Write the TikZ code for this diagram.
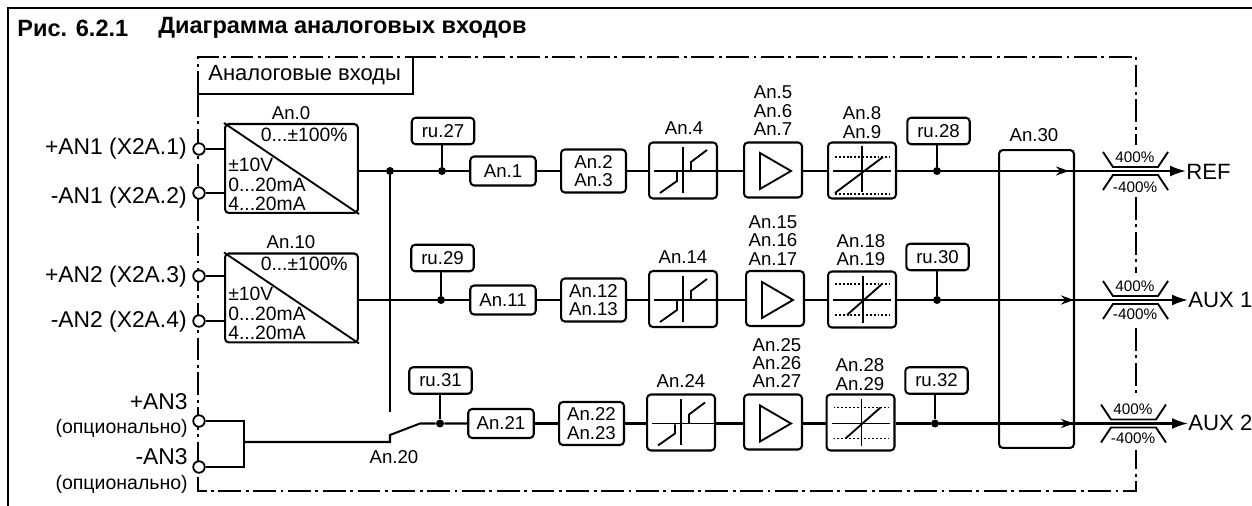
\documentclass[tikz,border=0pt]{standalone}
\usepackage{fontspec}
\setmainfont{Liberation Sans}
\usetikzlibrary{arrows.meta}
\tikzset{
  wire/.style={draw=black, line width=1.15pt},
  dashdot/.style={draw=black, line width=0.9pt, dash pattern=on 13pt off 2.6pt on 1.6pt off 2.6pt},
  frameline/.style={draw=black, line width=1.5pt},
  blk/.style={draw=black, line width=1.15pt, rounded corners=2.2pt, inner sep=0pt, font=\fontsize{10.6}{10.5}\selectfont, align=center},
  adcbox/.style={blk, minimum width=2.66cm, minimum height=1.78cm},
  rubox/.style={blk, minimum width=1.25cm, minimum height=0.53cm},
  anbox/.style={blk, minimum width=1.31cm, minimum height=0.58cm},
  twobox/.style={blk, minimum width=1.30cm, minimum height=0.86cm},
  dzbox/.style={blk, minimum width=1.36cm, minimum height=1.12cm},
  ampbox/.style={blk, minimum width=1.16cm, minimum height=1.10cm},
  term/.style={circle, draw=black, fill=white, line width=1.05pt, inner sep=0pt, minimum size=0.23cm},
  junc/.style={circle, fill=black, inner sep=0pt, minimum size=0.16cm},
  lbl/.style={font=\fontsize{10.6}{10.5}\selectfont, align=center, inner sep=0pt},
  adctxt/.style={font=\fontsize{11}{11}\selectfont, inner sep=0pt},
  pin/.style={font=\fontsize{13}{13}\selectfont, anchor=east, inner sep=0pt},
  opt/.style={font=\fontsize{11.1}{12}\selectfont, anchor=east, inner sep=0pt},
  outname/.style={font=\fontsize{12.6}{13}\selectfont, anchor=west, inner sep=0pt},
  pct/.style={font=\fontsize{8.7}{9}\selectfont, inner sep=0pt},
  ttl/.style={font=\fontsize{13.4}{13}\selectfont\bfseries, anchor=west, inner sep=0pt},
  sym/.style={draw=black, line width=1.05pt},
  dots/.style={draw=black, line width=0.9pt, dash pattern=on 1.1pt off 1.1pt},
  sig/.style={wire, -{Latex[length=3.2mm,width=2.2mm]}},
  thru/.style={draw=black, line width=1.05pt, dash pattern=on 3pt off 2pt, -{Stealth[length=2.6mm,width=1.8mm]}},
}
% symbols inside the blocks, drawn around the centre of a node
\newcommand{\dzsym}[1]{
  \draw[sym, shift={(#1)}] (0,-24) -- (0,22);
  \draw[sym, shift={(#1)}] (-29,0) -- (34,0);
  \draw[sym, shift={(#1)}] (-23,22) -- (-6,10) -- (-6,1);
  \draw[sym, shift={(#1)}] (8,0) -- (8,-9) -- (24,-21);
}
\newcommand{\ampsym}[1]{
  \draw[sym, shift={(#1)}] (-13,-18) -- (-13,18) -- (18,0) -- cycle;
}
\newcommand{\rampsym}[1]{
  \draw[dots, shift={(#1)}] (-27,-14) -- (28,-14);
  \draw[dots, shift={(#1)}] (-27,23) -- (28,23);
  \draw[sym, shift={(#1)}] (0,-25) -- (0,21);
  \draw[sym, shift={(#1)}] (-29,0) -- (29,0);
  \draw[sym, shift={(#1)}] (-27,22) -- (21,-14);
}
\newcommand{\rampshort}[1]{
  \draw[dots, shift={(#1)}] (-27,-16) -- (28,-16);
  \draw[dots, shift={(#1)}] (-27,15) -- (28,15);
  \draw[sym, shift={(#1)}] (1,-24) -- (1,23);
  \draw[sym, shift={(#1)}] (-29,0) -- (29,0);
  \draw[sym, shift={(#1)}] (-15,15) -- (20,-16);
}
\newcommand{\limsym}[1]{
  \draw[sym, shift={(#1)}] (-32,-19) -- (-22,-4) -- (23,-4) -- (33,-19);
  \draw[sym, shift={(#1)}] (-32,19) -- (-22,4) -- (23,4) -- (33,19);
}
\begin{document}
\begin{tikzpicture}[x=0.02cm,y=-0.02cm]
  \useasboundingbox (0,0) rectangle (1252,506);
  % frame and title
  \draw[frameline] (8,506) -- (8,8) -- (1252,8);
  \node[ttl] (ttlnum) at (17,28) {Рис. 6.2.1};
  \node[ttl] (ttltxt) at (158,28) {Диаграмма аналоговых входов};
  % dash-dot boundary
  \draw[dashdot] (198,94) -- (198,57) -- (413,57);
  \draw[dashdot] (198,94) -- (198,491) -- (1136,491) -- (1136,450);
  \draw[dashdot] (413,57) -- (1136,57) -- (1136,145);
  \draw[dashdot] (1136,197) -- (1136,273);
  \draw[dashdot] (1136,328) -- (1136,395);
  \draw[wire] (198,94) -- (413,94) -- (413,57);
  \node[inner sep=0pt, font=\fontsize{12.5}{13}\selectfont, anchor=west] (title) at (208,75) {Аналоговые входы};
  % input terminals
  \node[term] (t1) at (199,149) {};
  \node[term] (t2) at (199,193) {};
  \node[term] (t3) at (199,276) {};
  \node[term] (t4) at (199,321) {};
  \node[term] (t5) at (199,421) {};
  \node[term] (t6) at (199,467) {};
  \node[pin] (p1) at (187,149) {+AN1 (X2A.1)};
  \node[pin] (p2) at (187,198) {-AN1 (X2A.2)};
  \node[pin] (p3) at (187,277) {+AN2 (X2A.3)};
  \node[pin] (p4) at (187,322) {-AN2 (X2A.4)};
  \node[pin] (p5) at (188,402) {+AN3};
  \node[opt] (o5) at (188,428) {(опционально)};
  \node[pin] (p6) at (188,457) {-AN3};
  \node[opt] (o6) at (188,484) {(опционально)};
  % input converters
  \node[adcbox] (adc1) at (291.5,168.5) {};
  \draw[sym] (adc1.north west) -- (adc1.south east);
  \node[lbl] (an0) at (291,113) {An.0};
  \node[adctxt, anchor=east] (a1) at (348,135) {0...±100\%};
  \node[adctxt, anchor=west] (a2) at (228,165) {±10V};
  \node[adctxt, anchor=west] (a3) at (228,185) {0...20mA};
  \node[adctxt, anchor=west] (a4) at (228,204) {4...20mA};
  \node[adcbox] (adc2) at (291.5,298) {};
  \draw[sym] (adc2.north west) -- (adc2.south east);
  \node[lbl] (an10) at (291,242) {An.10};
  \node[adctxt, anchor=east] (b1) at (348,264) {0...±100\%};
  \node[adctxt, anchor=west] (b2) at (228,294) {±10V};
  \node[adctxt, anchor=west] (b3) at (228,314) {0...20mA};
  \node[adctxt, anchor=west] (b4) at (228,333) {4...20mA};
  \draw[wire] (t1) -- (t1 -| adc1.west);
  \draw[wire] (t2) -- (t2 -| adc1.west);
  \draw[wire] (t3) -- (t3 -| adc2.west);
  \draw[wire] (t4) -- (t4 -| adc2.west);
  % row 1
  \node[junc] (jsw) at (390,171) {};
  \node[junc] (j27) at (442,171) {};
  \node[rubox] (ru27) at (443,131) {ru.27};
  \node[anbox] (an1) at (503,171) {An.1};
  \node[twobox] (an2) at (593.5,171) {An.2\\An.3};
  \node[dzbox] (dz1) at (683,170.5) {};
  \node[ampbox] (amp1) at (773,170) {};
  \node[dzbox] (rmp1) at (862,170.5) {};
  \node[lbl] (an4) at (684,128) {An.4};
  \node[lbl] (an5) at (773,111) {An.5\\An.6\\An.7};
  \node[lbl] (an8) at (862,122.5) {An.8\\An.9};
  \node[junc] (j28) at (937,171) {};
  \node[rubox] (ru28) at (938.5,131) {ru.28};
  \node[outname] (ref) at (1186,172) {REF};
  % row 2
  \node[junc] (j29) at (441,300) {};
  \node[rubox] (ru29) at (442.5,258) {ru.29};
  \node[anbox] (an11) at (503,300) {An.11};
  \node[twobox] (an12) at (593.5,300) {An.12\\An.13};
  \node[dzbox] (dz2) at (683,299) {};
  \node[ampbox] (amp2) at (775,298.5) {};
  \node[dzbox] (rmp2) at (862,299.5) {};
  \node[lbl] (an14) at (683,257) {An.14};
  \node[lbl] (an15) at (773,240.5) {An.15\\An.16\\An.17};
  \node[lbl] (an18) at (861,250) {An.18\\An.19};
  \node[junc] (j30) at (937,300) {};
  \node[rubox] (ru30) at (937.5,257) {ru.30};
  \node[outname] (aux1) at (1188,300) {AUX 1};
  % row 3
  \node[junc] (j31) at (440,423.5) {};
  \node[rubox] (ru31) at (440.5,380.5) {ru.31};
  \node[anbox] (an21) at (501,423.5) {An.21};
  \node[twobox] (an22) at (591.5,423.5) {An.22\\An.23};
  \node[dzbox] (dz3) at (681,422.5) {};
  \node[ampbox] (amp3) at (773,422) {};
  \node[dzbox] (rmp3) at (860.5,422.5) {};
  \node[lbl] (an24) at (681,381) {An.24};
  \node[lbl] (an25) at (777,363) {An.25\\An.26\\An.27};
  \node[lbl] (an28) at (860,374.5) {An.28\\An.29};
  \node[junc] (j32) at (935,423.5) {};
  \node[rubox] (ru32) at (936.5,380.5) {ru.32};
  \node[outname] (aux2) at (1188,423) {AUX 2};
  % block symbols
  \dzsym{683,171} \dzsym{683,300} \dzsym{681,423.5}
  \ampsym{773,171} \ampsym{775,300} \ampsym{773,423.5}
  \rampsym{862,171} \rampshort{862,300} \rampshort{860.5,423.5}
  \limsym{1135,171} \limsym{1135,300} \limsym{1133,423.5}
  % connectors, row 1
  \draw[wire] (adc1.east |- jsw) -- (jsw) -- (j27) -- (an1);
  \draw[wire] (ru27.south -| j27) -- (j27);
  \draw[wire] (an1) -- (an2);
  \draw[wire] (an2) -- (dz1.west |- an2);
  \draw[wire] (dz1.east |- j27) -- (amp1.west |- j27);
  \draw[wire] (amp1.east |- j27) -- (rmp1.west |- j27);
  \draw[wire] (rmp1.east |- j28) -- (j28);
  \draw[wire] (ru28.south -| j28) -- (j28);
  % connectors, row 2
  \draw[wire] (adc2.east |- j29) -- (j29) -- (an11);
  \draw[wire] (ru29.south -| j29) -- (j29);
  \draw[wire] (an11) -- (an12);
  \draw[wire] (an12) -- (dz2.west |- an12);
  \draw[wire] (dz2.east |- j29) -- (amp2.west |- j29);
  \draw[wire] (amp2.east |- j29) -- (rmp2.west |- j29);
  \draw[wire] (rmp2.east |- j30) -- (j30);
  \draw[wire] (ru30.south -| j30) -- (j30);
  % connectors, row 3 and the selector
  \coordinate (busa) at (244,421);
  \coordinate (busb) at (244,467);
  \coordinate (busm) at (244,442);
  \coordinate (swa) at (390,442);
  \coordinate (swb) at (390,435);
  \coordinate (swc) at (420,423.5);
  \coordinate (swtop) at (390,412);
  \draw[wire] (t5) -- (busa) -- (busb) -- (t6);
  \draw[wire] (busm) -- (swa) -- (swb) -- (swc) -- (j31) -- (an21);
  \draw[wire] (jsw) -- (swtop);
  \node[lbl] (an20) at (394,457) {An.20};
  \draw[wire] (ru31.south -| j31) -- (j31);
  \draw[wire] (an21) -- (an22);
  \draw[wire] (an22) -- (dz3.west |- an22);
  \draw[wire] (dz3.east |- j31) -- (amp3.west |- j31);
  \draw[wire] (amp3.east |- j31) -- (rmp3.west |- j31);
  \draw[wire] (rmp3.east |- j32) -- (j32);
  \draw[wire] (ru32.south -| j32) -- (j32);
  % selector block and outputs
  \node[blk, minimum width=1.50cm, minimum height=5.96cm] (an30box) at (1036.5,299) {};
  \node[lbl] (an30) at (1034,135) {An.30};
  \draw[sig] (j28) -- (ref.west |- j28);
  \draw[sig] (j30) -- (aux1.west |- j30);
  \draw[sig] (j32) -- (aux2.west |- j32);
  \coordinate (ma1) at (1042,171);
  \coordinate (mb1) at (1069,171);
  \coordinate (ma2) at (1042,300);
  \coordinate (mb2) at (1074,300);
  \coordinate (ma3) at (1042,423.5);
  \coordinate (mb3) at (1074,423.5);
  \draw[thru] (ma1) -- (mb1);
  \draw[thru] (ma2) -- (mb2);
  \draw[thru] (ma3) -- (mb3);
  % limits
  \node[pct] (up1) at (1135,157) {400\%};
  \node[pct] (lo1) at (1135,187) {-400\%};
  \node[pct] (up2) at (1135,286) {400\%};
  \node[pct] (lo2) at (1135,314) {-400\%};
  \node[pct] (up3) at (1133,409) {400\%};
  \node[pct] (lo3) at (1133,438) {-400\%};
\end{tikzpicture}
\end{document}
